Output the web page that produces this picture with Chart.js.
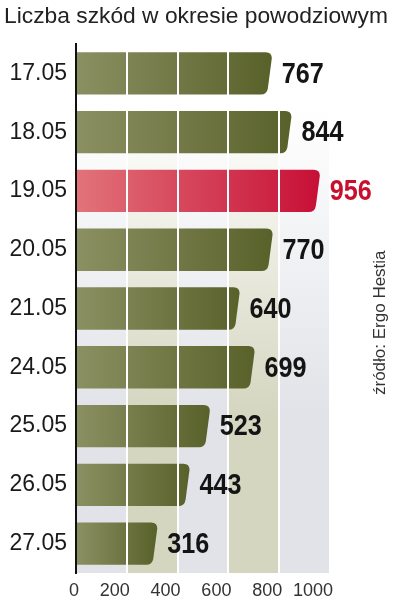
<!DOCTYPE html>
<html>
<head>
<meta charset="utf-8">
<script src="https://cdn.jsdelivr.net/npm/chart.js@4/dist/chart.umd.min.js"></script>
<style>
  html, body { margin: 0; padding: 0; background: #fff; }
  #wrap { width: 395px; height: 609px; }
</style>
</head>
<body>
<div id="wrap"><canvas id="claimsChart" width="395" height="609"></canvas></div>
<script>
// Data
const days = ['17.05', '18.05', '19.05', '20.05', '21.05', '24.05', '25.05', '26.05', '27.05'];
const claims = [767, 844, 956, 770, 640, 699, 523, 443, 316];
const xTicks = [0, 200, 400, 600, 800, 1000];
const highlightDay = '19.05';

const titleText = 'Liczba szkód w okresie powodziowym';
const sourceText = 'źródło: Ergo Hestia';

const textFont = '"Liberation Sans", Arial, sans-serif';

/**
 * Column bands behind the bars, fading to white at the top
 */
const bandsPlugin = {
    id: 'bands',
    beforeDraw(chart) {
        const { ctx, chartArea } = chart;
        const x = chart.scales.x;
        for (let i = 0; i < xTicks.length - 1; i++) {
            const x0 = x.getPixelForValue(xTicks[i]);
            const x1 = x.getPixelForValue(xTicks[i + 1]);
            const col = i % 2 === 0 ? '#e1e3e8' : '#d5d6c0';
            const g = ctx.createLinearGradient(0, chartArea.top, 0, chartArea.bottom);
            g.addColorStop(0, '#ffffff');
            g.addColorStop(0.12, '#ffffff');
            g.addColorStop(0.7, col);
            g.addColorStop(1, col);
            ctx.fillStyle = g;
            ctx.fillRect(x0, chartArea.top, x1 - x0, chartArea.bottom - chartArea.top);
        }
    }
};

/**
 * Bars with a slanted, rounded right end
 */
const slantBarsPlugin = {
    id: 'slantBars',
    beforeDatasetDraw(chart, args) {
        const { ctx } = chart;
        args.meta.data.forEach((el, i) => {
            const { x, y, base, height } = el.getProps(['x', 'y', 'base', 'height'], true);
            const top = y - height / 2;
            const bottom = y + height / 2;
            const xt = x + 1;
            const xb = x - 4;
            const r = 6;
            const hot = days[i] === highlightDay;
            const g = ctx.createLinearGradient(base, 0, xt, 0);
            if (hot) {
                g.addColorStop(0, '#e2737a');
                g.addColorStop(1, '#c70f36');
            } else {
                g.addColorStop(0, '#8b9062');
                g.addColorStop(1, '#59612a');
            }
            ctx.save();
            ctx.beginPath();
            ctx.moveTo(base, top);
            ctx.lineTo(xt - r, top);
            ctx.quadraticCurveTo(xt, top, xt, top + r);
            ctx.lineTo(xb + 1, bottom - r);
            ctx.quadraticCurveTo(xb, bottom, xb - r, bottom);
            ctx.lineTo(base, bottom);
            ctx.closePath();
            ctx.fillStyle = g;
            ctx.fill();
            ctx.restore();
        });
        return false;
    }
};

/**
 * Value labels (condensed bold), title and source note
 */
const textPlugin = {
    id: 'texts',
    afterDraw(chart) {
        const { ctx } = chart;
        const meta = chart.getDatasetMeta(0);
        ctx.save();
        ctx.font = 'bold 30px ' + textFont;
        ctx.textBaseline = 'middle';
        ctx.textAlign = 'left';
        meta.data.forEach((el, i) => {
            ctx.save();
            ctx.translate(el.x + 11, el.y + 1);
            ctx.scale(0.84, 1);
            ctx.fillStyle = days[i] === highlightDay ? '#c8102e' : '#141414';
            ctx.fillText(String(claims[i]), 0, 0);
            ctx.restore();
        });

        ctx.font = '22.8px ' + textFont;
        ctx.fillStyle = '#222';
        ctx.textBaseline = 'alphabetic';
        ctx.fillText(titleText, 4, 23);

        ctx.font = '17px ' + textFont;
        ctx.fillStyle = '#333';
        ctx.translate(385, 395);
        ctx.rotate(-Math.PI / 2);
        ctx.fillText(sourceText, 0, 0);
        ctx.restore();
    }
};

new Chart(document.getElementById('claimsChart').getContext('2d'), {
    type: 'bar',
    data: {
        labels: days,
        datasets: [{
            label: titleText,
            data: claims,
            backgroundColor: '#6a7038',
            categoryPercentage: 1,
            barPercentage: 0.72
        }]
    },
    options: {
        indexAxis: 'y',
        responsive: false,
        animation: false,
        layout: { padding: { top: 44, left: 4, right: 65, bottom: 0 } },
        plugins: {
            legend: { display: false },
            tooltip: { enabled: false }
        },
        scales: {
            x: {
                min: 0,
                max: 1000,
                afterBuildTicks: (scale) => { scale.ticks = xTicks.map(v => ({ value: v })); },
                afterFit: (scale) => { scale.height = 36; },
                grid: {
                    color: (c) => (c.tick && c.tick.value === 0 ? 'rgba(0,0,0,0)' : '#ffffff'),
                    lineWidth: 2,
                    drawTicks: false,
                    z: 1
                },
                border: { display: false },
                ticks: {
                    align: 'end',
                    labelOffset: 3,
                    padding: 7,
                    autoSkip: false,
                    maxRotation: 0,
                    color: '#333',
                    font: { family: textFont, size: 18 },
                    callback: (v) => String(v)
                }
            },
            y: {
                afterFit: (scale) => { scale.width = 72; },
                grid: { display: false, drawTicks: false },
                border: { display: true, color: '#111', width: 2 },
                ticks: {
                    padding: 9,
                    color: '#1a1a1a',
                    font: { family: textFont, size: 23 }
                }
            }
        }
    },
    plugins: [bandsPlugin, slantBarsPlugin, textPlugin]
});
</script>
</body>
</html>
